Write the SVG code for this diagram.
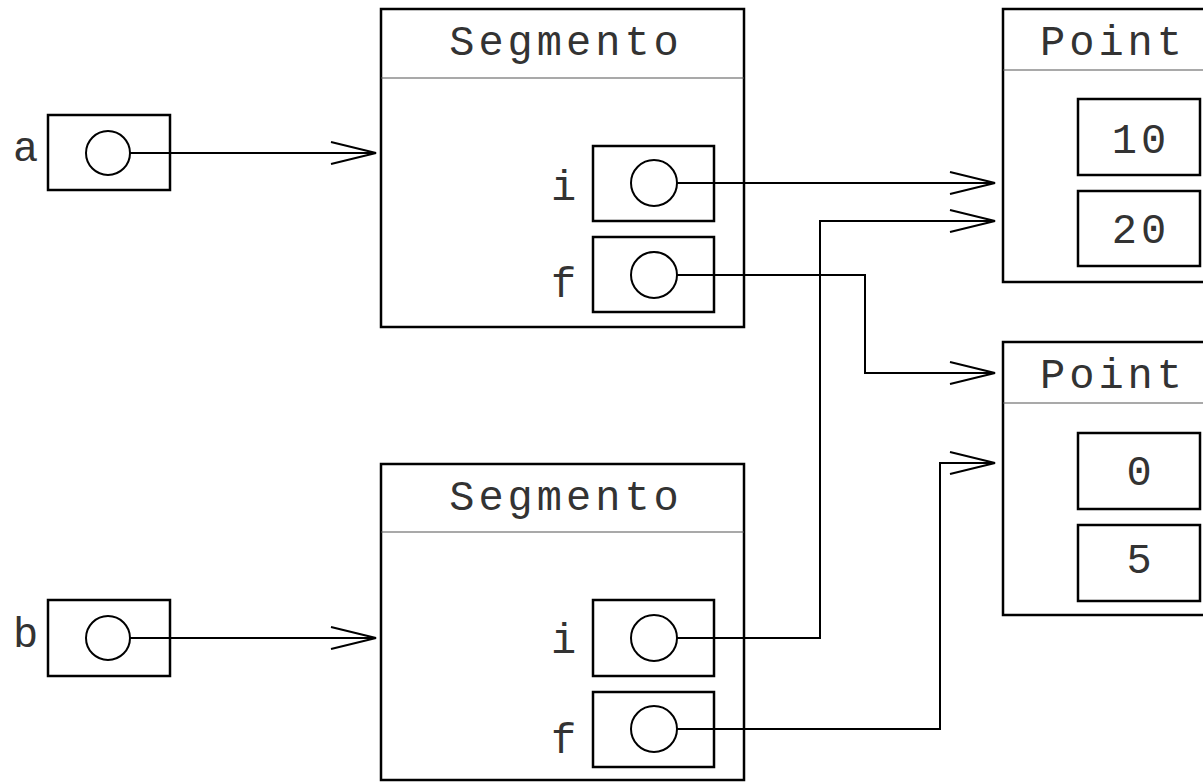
<svg xmlns="http://www.w3.org/2000/svg" width="1203" height="782" viewBox="0 0 1203 782">
<defs>
<style>
.box{fill:none;stroke:#000;stroke-width:2.5}
.div{stroke:#555;stroke-width:1.2}
.ptr{fill:none;stroke:#000;stroke-width:2}
.con{fill:none;stroke:#000;stroke-width:2}
.t{font-family:"Liberation Mono","Courier New",monospace;font-size:42px;fill:#333;letter-spacing:4px}
.m{text-anchor:middle}
</style>
<marker id="arr" markerWidth="50" markerHeight="26" refX="46" refY="12" orient="auto" markerUnits="userSpaceOnUse">
<path d="M1,1 L46,12 L1,23" fill="none" stroke="#000" stroke-width="2"/>
</marker>
</defs>
<rect width="1203" height="782" fill="#fff"/>
<g id="var-a">
<text class="t" x="13" y="161">a</text>
<rect class="box" x="48" y="115" width="122" height="75"/>
<circle class="ptr" cx="108" cy="153" r="22"/>
</g>
<g id="var-b">
<text class="t" x="13" y="647">b</text>
<rect class="box" x="48" y="600" width="122" height="76"/>
<circle class="ptr" cx="108" cy="638" r="22"/>
</g>
<g id="segmento1">
<rect class="box" x="381" y="9" width="363" height="318"/>
<line class="div" x1="381" y1="78" x2="744" y2="78"/>
<text class="t m" x="566" y="55">Segmento</text>
<text class="t" x="551" y="200">i</text>
<rect class="box" x="593" y="146" width="121" height="75"/>
<circle class="ptr" cx="654" cy="183" r="23"/>
<text class="t" x="551" y="297">f</text>
<rect class="box" x="593" y="237" width="121" height="75"/>
<circle class="ptr" cx="654" cy="275" r="23"/>
</g>
<g id="segmento2">
<rect class="box" x="381" y="464" width="363" height="316"/>
<line class="div" x1="381" y1="532" x2="744" y2="532"/>
<text class="t m" x="566" y="510">Segmento</text>
<text class="t" x="551" y="653">i</text>
<rect class="box" x="593" y="600" width="121" height="76"/>
<circle class="ptr" cx="654" cy="638" r="23"/>
<text class="t" x="551" y="753">f</text>
<rect class="box" x="593" y="692" width="121" height="75"/>
<circle class="ptr" cx="654" cy="729" r="23"/>
</g>
<g id="point1">
<rect class="box" x="1003" y="9" width="240" height="273"/>
<line class="div" x1="1003" y1="70" x2="1243" y2="70"/>
<text class="t" x="1040" y="55">Point</text>
<rect class="box" x="1078" y="99" width="122" height="76"/>
<text class="t m" x="1141" y="153">10</text>
<rect class="box" x="1078" y="191" width="122" height="75"/>
<text class="t m" x="1141" y="243">20</text>
</g>
<g id="point2">
<rect class="box" x="1003" y="342" width="240" height="273"/>
<line class="div" x1="1003" y1="403" x2="1243" y2="403"/>
<text class="t" x="1040" y="388">Point</text>
<rect class="box" x="1078" y="433" width="122" height="76"/>
<text class="t m" x="1141" y="485">0</text>
<rect class="box" x="1078" y="525" width="122" height="76"/>
<text class="t m" x="1141" y="573">5</text>
</g>
<g id="connectors">
<path class="con" d="M130,153 L376,153" marker-end="url(#arr)"/>
<path class="con" d="M130,638 L376,638" marker-end="url(#arr)"/>
<path class="con" d="M676,183 L995,183" marker-end="url(#arr)"/>
<path class="con" d="M676,275 L865,275 L865,373 L995,373" marker-end="url(#arr)"/>
<path class="con" d="M676,638 L820,638 L820,221 L995,221" marker-end="url(#arr)"/>
<path class="con" d="M676,729 L940,729 L940,463 L995,463" marker-end="url(#arr)"/>
</g>
</svg>
